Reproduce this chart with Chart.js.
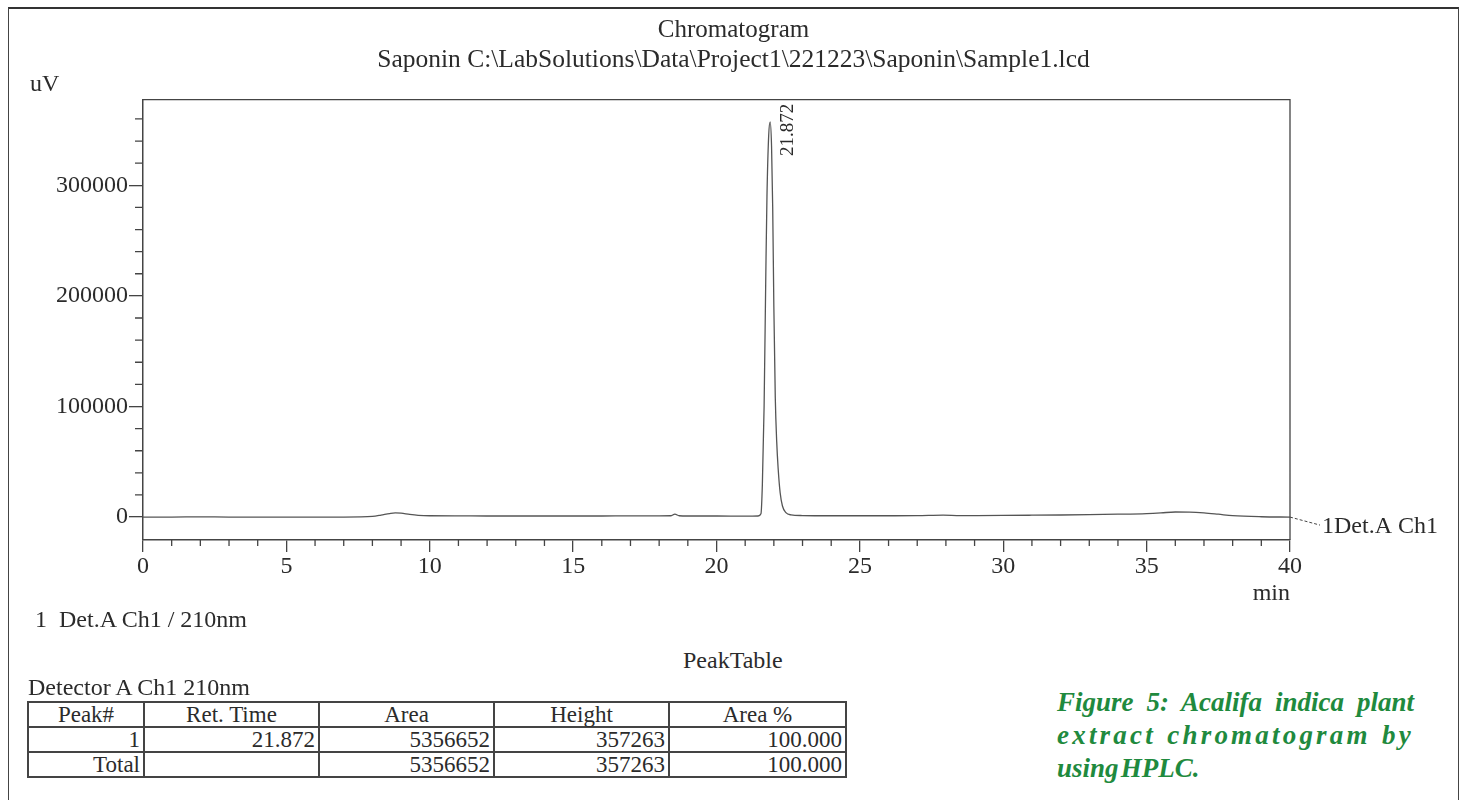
<!DOCTYPE html>
<html>
<head>
<meta charset="utf-8">
<script src="https://cdn.jsdelivr.net/npm/chart.js@4.4.1/dist/chart.umd.min.js"></script>
<style>
  body { margin: 0; background: #fff; width: 1467px; height: 800px; overflow: hidden; position: relative; font-family: "Liberation Serif", serif; color: #2b2b2b; }
  #frame { position: absolute; left: 8px; top: 7px; width: 1449px; height: 800px; border-top: 2px solid #333; border-left: 1.5px solid #444; border-right: 1.5px solid #444; }
  #wrap { position: absolute; left: 0; top: 0; width: 1467px; height: 620px; }
  .txt { position: absolute; white-space: nowrap; font-size: 24px; }
  #peaks { position: absolute; left: 27px; top: 701px; border-collapse: collapse; font-size: 23px; table-layout: fixed; width: 818px; }
  #peaks td { border: 2px solid #444; height: 23px; padding: 0 3px; line-height: 22px; text-align: right; }
  #peaks tr:first-child td { text-align: center; }
  #caption { position: absolute; left: 1057px; top: 686px; width: 357px; color: #1f8a3e; font: italic bold 27px "Liberation Serif", serif; line-height: 33px; }
  #caption div { text-align: justify; text-align-last: justify; white-space: nowrap; }
  #caption div.last { text-align-last: left; }
</style>
</head>
<body>
<div id="frame"></div>
<div id="wrap"><canvas id="chart" width="1467" height="620"></canvas></div>
<div class="txt" style="left:30px; top:70px;">uV</div>
<div class="txt" style="left:35px; top:606px;">1&nbsp;&nbsp;Det.A Ch1 / 210nm</div>
<div class="txt" style="left:683px; top:647px;">PeakTable</div>
<div class="txt" style="left:28px; top:674px;">Detector A Ch1 210nm</div>
<table id="peaks">
  <colgroup><col style="width:116px"><col style="width:175px"><col style="width:175px"><col style="width:175px"><col style="width:177px"></colgroup>
  <tr><td>Peak#</td><td>Ret. Time</td><td>Area</td><td>Height</td><td>Area %</td></tr>
  <tr><td>1</td><td>21.872</td><td>5356652</td><td>357263</td><td>100.000</td></tr>
  <tr><td>Total</td><td></td><td>5356652</td><td>357263</td><td>100.000</td></tr>
</table>
<div id="caption">
  <div>Figure 5: Acalifa indica plant</div>
  <div style="letter-spacing:3.2px">extract chromatogram by</div>
  <div class="last">using&#8202;HPLC.</div>
</div>
<script>
// retention time (min) and detector signal (uV)
const retTimes = [0, 1, 2, 3, 4, 5, 6, 7, 7.6, 8.0, 8.3, 8.6, 8.8, 9.0, 9.3, 9.6, 10, 11, 12, 13, 14, 15, 16, 17, 18, 18.4, 18.55, 18.7, 19, 20, 21, 21.45, 21.55, 21.6, 21.66, 21.72, 21.76, 21.82, 21.872, 21.92, 21.96, 22.0, 22.05, 22.1, 22.15, 22.22, 22.3, 22.42, 22.6, 23, 24, 25, 26, 27, 27.9, 28.5, 29, 30, 31, 32, 33, 34, 35, 35.5, 36, 36.5, 37, 37.5, 38, 39, 40];
const signal = [0, 0, 200, 0, 0, 0, 0, 0, 100, 600, 1800, 3200, 3800, 3500, 2400, 1600, 1200, 1100, 1000, 1000, 1000, 1000, 1000, 1100, 1100, 1200, 2600, 1200, 1000, 1000, 900, 1000, 3000, 30000, 100000, 220000, 290000, 345000, 357263, 335000, 280000, 190000, 108000, 68000, 44000, 22000, 10000, 4000, 2000, 1400, 1200, 1200, 1200, 1300, 1800, 1400, 1400, 1500, 1700, 1900, 2200, 2600, 3200, 3800, 4600, 4500, 3800, 2600, 1300, 300, 0];
const xTicks = [0, 5, 10, 15, 20, 25, 30, 35, 40];
const yTicks = [0, 100000, 200000, 300000];
const peakLabel = "21.872";
const channelLabel = "1Det.A Ch1";

const ink = "#2b2b2b";
const axisColor = "#444";
const serif = "Liberation Serif";

const extras = {
  id: "extras",
  afterDraw(chart) {
    const { ctx, chartArea: a, scales: { x, y } } = chart;
    ctx.save();
    ctx.strokeStyle = axisColor;
    ctx.lineWidth = 1.3;
    ctx.beginPath();
    // minor ticks, every 1 min and every 20000 uV
    for (let v = 0; v <= 40; v++) {
      if (v % 5 === 0) continue;
      const px = x.getPixelForValue(v);
      ctx.moveTo(px, a.bottom);
      ctx.lineTo(px, a.bottom + 6);
    }
    for (let v = 20000; v <= 360000; v += 20000) {
      if (v % 100000 === 0) continue;
      const py = y.getPixelForValue(v);
      ctx.moveTo(a.left, py);
      ctx.lineTo(a.left - 8, py);
    }
    // top and right frame
    ctx.moveTo(a.left, a.top);
    ctx.lineTo(a.right, a.top);
    ctx.lineTo(a.right, a.bottom);
    ctx.stroke();

    // channel label with dashed leader
    const lx = x.getPixelForValue(retTimes[retTimes.length - 1]);
    const ly = y.getPixelForValue(signal[signal.length - 1]);
    ctx.setLineDash([3, 2]);
    ctx.lineWidth = 1;
    ctx.beginPath();
    ctx.moveTo(lx, ly);
    ctx.lineTo(lx + 30, ly + 8);
    ctx.stroke();
    ctx.setLineDash([]);
    ctx.fillStyle = ink;
    ctx.font = "24px " + serif;
    ctx.textAlign = "left";
    ctx.textBaseline = "middle";
    ctx.fillText(channelLabel, lx + 32, ly + 10);

    // retention time label on the peak
    const top = signal.indexOf(Math.max(...signal));
    const px = x.getPixelForValue(retTimes[top]);
    ctx.translate(px + 18, 156);
    ctx.rotate(-Math.PI / 2);
    ctx.font = "19px " + serif;
    ctx.textBaseline = "middle";
    ctx.fillText(peakLabel, 0, 0);
    ctx.restore();
  }
};

const tickFont = { family: serif, size: 24 };

new Chart(document.getElementById("chart"), {
  type: "scatter",
  data: {
    datasets: [{
      data: retTimes.map((t, i) => ({ x: t, y: signal[i] })),
      showLine: true,
      borderColor: "#555",
      borderWidth: 1.3,
      pointRadius: 0,
      cubicInterpolationMode: "monotone"
    }]
  },
  options: {
    responsive: false,
    animation: false,
    layout: { padding: 0 },
    plugins: {
      legend: { display: false },
      tooltip: { enabled: false },
      title: {
        display: true, text: "Chromatogram", color: ink,
        font: { family: serif, size: 25, weight: "normal" },
        padding: { top: 15, bottom: 0 }
      },
      subtitle: {
        display: true, text: "Saponin C:\\LabSolutions\\Data\\Project1\\221223\\Saponin\\Sample1.lcd", color: ink,
        font: { family: serif, size: 25.5, weight: "normal" },
        padding: { top: 0, bottom: 24 }
      }
    },
    scales: {
      x: {
        type: "linear", min: 0, max: 40,
        afterFit: s => { s.height = 80; },
        afterBuildTicks: s => { s.ticks = xTicks.map(v => ({ value: v })); },
        grid: { drawOnChartArea: false, tickLength: 12, color: axisColor, lineWidth: 1.3 },
        border: { color: axisColor, width: 1.5 },
        ticks: { font: tickFont, color: ink, padding: 0, maxRotation: 0, autoSkip: false },
        title: { display: true, text: "min", align: "end", color: ink, font: tickFont, padding: { top: 0, bottom: 12 } }
      },
      y: {
        min: -20720, max: 377480,
        afterFit: s => { s.width = 143; },
        afterBuildTicks: s => { s.ticks = yTicks.map(v => ({ value: v })); },
        grid: { drawOnChartArea: false, tickLength: 14, color: axisColor, lineWidth: 1.3 },
        border: { color: axisColor, width: 1.5 },
        ticks: { font: tickFont, color: ink, padding: 1, callback: v => String(v) }
      },
      // empty right-hand axis: keeps room for the channel label while titles stay centred on the page
      side: {
        position: "right",
        afterFit: s => { s.width = 177; },
        grid: { display: false },
        border: { display: false },
        ticks: { display: false }
      }
    }
  },
  plugins: [extras]
});
</script>
</body>
</html>
